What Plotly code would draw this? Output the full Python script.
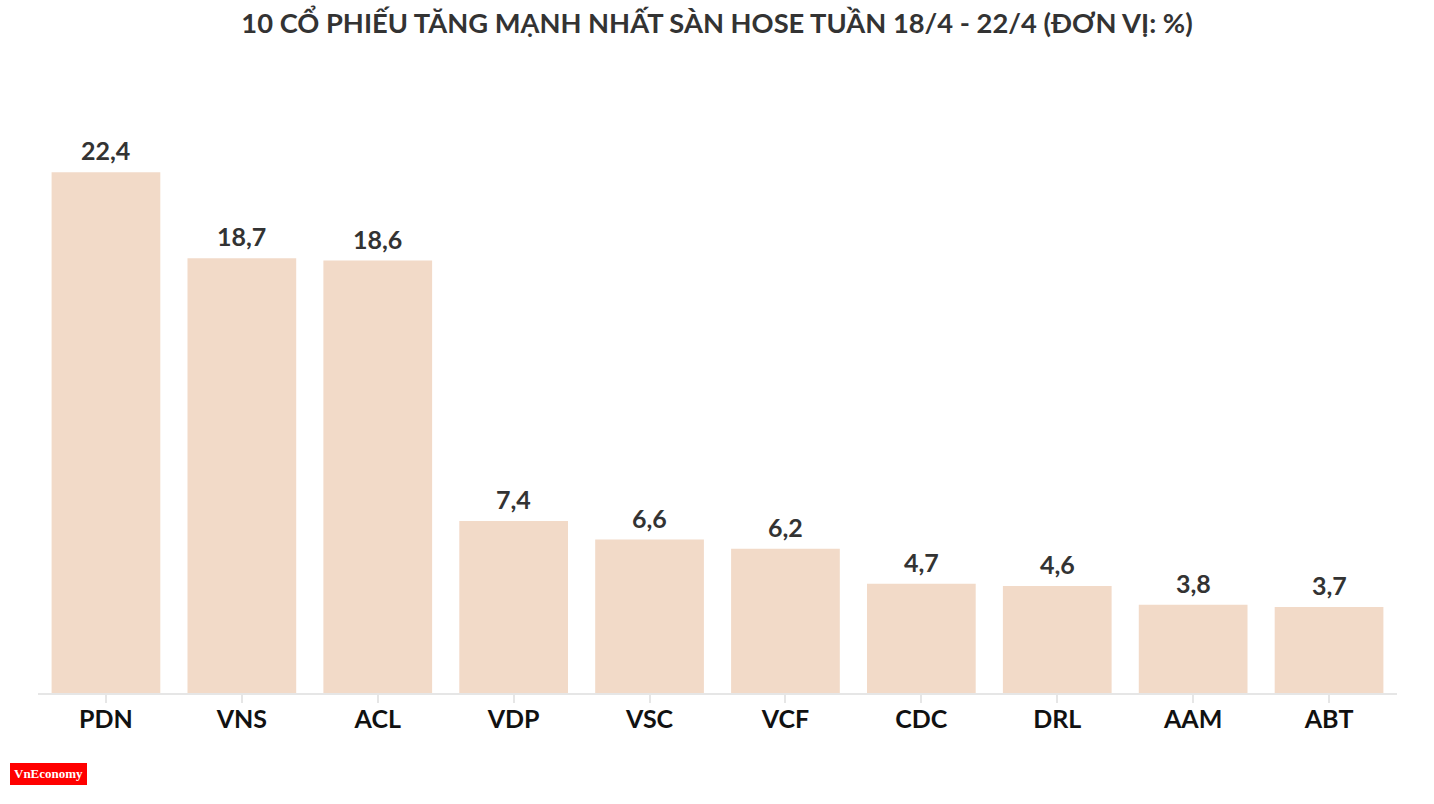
import plotly.graph_objects as go

categories = ["PDN", "VNS", "ACL", "VDP", "VSC", "VCF", "CDC", "DRL", "AAM", "ABT"]
values = [22.4, 18.7, 18.6, 7.4, 6.6, 6.2, 4.7, 4.6, 3.8, 3.7]
title_text = "10 CỔ PHIẾU TĂNG MẠNH NHẤT SÀN HOSE TUẦN 18/4 - 22/4 (ĐƠN VỊ: %)"

FONT = "Source Sans Pro, Lato, Noto Sans, sans-serif"

fig = go.Figure(go.Bar(
    x=categories, y=values,
    marker=dict(color="#f2dac8", line=dict(width=0)),
    cliponaxis=False,
))

for c, v in zip(categories, values):
    fig.add_annotation(x=c, y=v, text=f"{v:.1f}".replace(".", ","),
                       showarrow=False, xanchor="center", yanchor="middle",
                       yshift=22,
                       font=dict(family=FONT, size=25, color="#333333", weight="bold"))

L, R, T, B = 38, 37, 135, 111
W, H = 1434 - L - R, 804 - T - B

fig.update_layout(
    width=1434, height=804,
    paper_bgcolor="white", plot_bgcolor="white",
    separators=",.",
    bargap=0.2,
    margin=dict(l=L, r=R, t=T, b=B),
    showlegend=False,
    title=dict(text="<b>" + title_text + "</b>", x=0.5, xanchor="center",
               y=1 - 23 / 804, yanchor="middle",
               font=dict(family=FONT, size=27.3, color="#333333")),
    xaxis=dict(showline=True, linecolor="#e6e6e6", linewidth=2,
               ticks="outside", ticklen=8, tickwidth=2, tickcolor="#e6e6e6",
               ticklabelstandoff=-5,
               tickfont=dict(family=FONT, size=25, color="#111111", weight="bold"),
               showgrid=False, fixedrange=True),
    yaxis=dict(range=[0, 24], visible=False, showgrid=False, fixedrange=True),
)

fig.add_shape(type="rect", xref="paper", yref="paper",
              x0=(10 - L) / W, x1=(87 - L) / W,
              y0=-(785 - (T + H)) / H, y1=-(763 - (T + H)) / H,
              fillcolor="#ff0000", line=dict(width=0))
fig.add_annotation(text="<b>VnEconomy</b>", xref="paper", yref="paper",
                   x=(48.5 - L) / W, y=-(773 - (T + H)) / H, showarrow=False,
                   xanchor="center", yanchor="middle",
                   font=dict(family="Liberation Serif, serif", size=13, color="white"))

fig.write_html("out.html", config={"displayModeBar": False},
               post_script="document.body.style.margin='0';")
